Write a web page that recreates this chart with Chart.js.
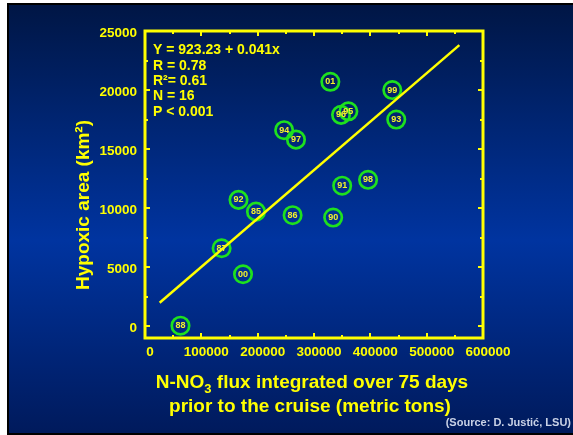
<!DOCTYPE html>
<html>
<head>
<meta charset="utf-8">
<title>Hypoxic area vs N-NO3 flux</title>
<script src="https://cdn.jsdelivr.net/npm/chart.js@4.4.1/dist/chart.umd.min.js"></script>
<style>
    html, body { margin: 0; padding: 0; background: #fff; overflow: hidden; }
</style>
</head>
<body>
<canvas id="fluxChart" width="573" height="435"></canvas>
<script>
(function () {
    'use strict';

    // cruise years (labels inside the circles)
    var years = ['85', '86', '87', '88', '90', '91', '92', '93', '94', '95', '96', '97', '98', '99', '00', '01'];
    // N-NO3 flux over 75 days before the cruise, metric tons
    var flux = [197000, 262000, 136000, 63000, 334000, 350000, 166000, 446000, 247000, 361000, 348000, 268000, 396000, 439000, 174000, 329000];
    // hypoxic area, km2
    var area = [9700, 9400, 6600, 40, 9200, 11900, 10700, 17500, 16600, 18200, 17900, 15800, 12400, 20000, 4400, 20700];

    // regression Y = a + b x, drawn over this flux range
    var fitA = 923.23;
    var fitB = 0.041;
    var fitFrom = 26000;
    var fitTo = 558000;

    var statsLines = ['Y = 923.23 + 0.041x', 'R = 0.78', 'R\u00b2= 0.61', 'N = 16', 'P < 0.001'];

    var xTicks = [0, 100000, 200000, 300000, 400000, 500000, 600000];
    var yTicks = [0, 5000, 10000, 15000, 20000, 25000];

    var YELLOW = '#ffff00';
    var GREEN = '#1ee11e';
    var FONT = "'Liberation Sans', Arial, sans-serif";

    var points = flux.map(function (f, i) { return { x: f, y: area[i] }; });
    var fitLine = [
        { x: fitFrom, y: fitA + fitB * fitFrom },
        { x: fitTo, y: fitA + fitB * fitTo }
    ];

    // slide background: white margin, black rule, blue gradient
    var slideBackground = {
        id: 'slideBackground',
        beforeDraw: function (chart) {
            var ctx = chart.ctx, w = chart.width, h = chart.height;
            ctx.save();
            ctx.fillStyle = '#ffffff';
            ctx.fillRect(0, 0, w, h);
            ctx.fillStyle = '#000000';
            ctx.fillRect(7, 3, w - 7, h - 3);
            var g = ctx.createLinearGradient(0, 5, 0, h - 2);
            g.addColorStop(0, '#001645');
            g.addColorStop(0.55, '#0034a0');
            g.addColorStop(1, '#001a5c');
            ctx.fillStyle = g;
            ctx.fillRect(9, 5, w - 9, h - 7);
            ctx.restore();
        }
    };

    // yellow box with inward tick marks on all four sides
    var plotBox = {
        id: 'plotBox',
        afterDatasetsDraw: function (chart) {
            var ctx = chart.ctx, a = chart.chartArea;
            var xs = chart.scales.x, ys = chart.scales.y;
            ctx.save();
            ctx.strokeStyle = YELLOW;
            ctx.lineWidth = 2;
            var v, p, len;
            ctx.beginPath();
            for (v = 50000; v < xs.max; v += 50000) {
                p = Math.round(xs.getPixelForValue(v));
                len = v % 100000 === 0 ? 5 : 3;
                ctx.moveTo(p, a.bottom); ctx.lineTo(p, a.bottom - len);
                ctx.moveTo(p, a.top); ctx.lineTo(p, a.top + len);
            }
            for (v = 0; v < ys.max; v += 2500) {
                p = Math.round(ys.getPixelForValue(v));
                len = v % 5000 === 0 ? 5 : 3;
                ctx.moveTo(a.left, p); ctx.lineTo(a.left + len, p);
                ctx.moveTo(a.right, p); ctx.lineTo(a.right - len, p);
            }
            ctx.stroke();
            ctx.lineWidth = 3;
            ctx.strokeRect(a.left, a.top, a.right - a.left, a.bottom - a.top);
            ctx.restore();
        }
    };

    // year label in each circle
    var yearLabels = {
        id: 'yearLabels',
        afterDatasetsDraw: function (chart) {
            var ctx = chart.ctx;
            var meta = chart.getDatasetMeta(1);
            ctx.save();
            ctx.fillStyle = '#f4f42a';
            ctx.font = 'bold 9px ' + FONT;
            ctx.textAlign = 'center';
            ctx.textBaseline = 'middle';
            meta.data.forEach(function (el, i) {
                ctx.fillText(years[i], el.x, el.y);
            });
            ctx.restore();
        }
    };

    // axis titles, regression stats and source note
    var textLayer = {
        id: 'textLayer',
        afterDraw: function (chart) {
            var ctx = chart.ctx;
            ctx.save();
            ctx.fillStyle = YELLOW;
            ctx.textBaseline = 'middle';

            ctx.font = 'bold 14px ' + FONT;
            ctx.textAlign = 'left';
            statsLines.forEach(function (s, i) {
                ctx.fillText(s, 153, 50.5 + i * 15.3);
            });

            ctx.font = 'bold 19px ' + FONT;
            ctx.save();
            ctx.translate(84, 205);
            ctx.rotate(-Math.PI / 2);
            ctx.textAlign = 'center';
            ctx.fillText('Hypoxic area (km\u00b2)', 0, 0);
            ctx.restore();

            // first line has a subscript 3
            var a1 = 'N-NO', sub = '3', a2 = ' flux integrated over 75 days';
            ctx.textAlign = 'left';
            ctx.font = 'bold 19px ' + FONT;
            var w1 = ctx.measureText(a1).width, w3 = ctx.measureText(a2).width;
            ctx.font = 'bold 13px ' + FONT;
            var w2 = ctx.measureText(sub).width;
            var x0 = 312 - (w1 + w2 + w3) / 2;
            ctx.font = 'bold 19px ' + FONT;
            ctx.fillText(a1, x0, 383);
            ctx.fillText(a2, x0 + w1 + w2, 383);
            ctx.font = 'bold 13px ' + FONT;
            ctx.fillText(sub, x0 + w1, 389);

            ctx.font = 'bold 19px ' + FONT;
            ctx.textAlign = 'center';
            ctx.fillText('prior to the cruise (metric tons)', 310, 407);

            ctx.font = 'bold 11px ' + FONT;
            ctx.textAlign = 'right';
            ctx.fillStyle = '#c9d2e6';
            ctx.fillText('(Source: D. Justi\u0107, LSU)', 571, 423);
            ctx.restore();
        }
    };

    new Chart(document.getElementById('fluxChart'), {
        type: 'scatter',
        data: {
            datasets: [
                {
                    type: 'line',
                    data: fitLine,
                    borderColor: YELLOW,
                    borderWidth: 2.5,
                    pointRadius: 0,
                    fill: false,
                    tension: 0
                },
                {
                    data: points,
                    pointRadius: 8.7,
                    pointBorderWidth: 2.7,
                    pointBorderColor: GREEN,
                    pointBackgroundColor: 'rgba(0,0,0,0)'
                }
            ]
        },
        options: {
            responsive: false,
            animation: false,
            events: [],
            layout: { padding: { left: 0, top: 31, right: 90, bottom: 0 } },
            plugins: {
                legend: { display: false },
                tooltip: { enabled: false }
            },
            scales: {
                x: {
                    type: 'linear',
                    min: 0,
                    max: 600000,
                    grid: { display: false, drawTicks: false },
                    border: { display: false },
                    afterBuildTicks: function (scale) {
                        scale.ticks = xTicks.map(function (v) { return { value: v }; });
                    },
                    afterFit: function (scale) { scale.height = 97; },
                    ticks: {
                        color: YELLOW,
                        font: { family: FONT, size: 13.5, weight: 'bold' },
                        padding: 6.5,
                        labelOffset: 5,
                        maxRotation: 0,
                        autoSkip: false,
                        callback: function (v) { return String(v); }
                    }
                },
                y: {
                    type: 'linear',
                    min: -1000,
                    max: 25000,
                    grid: { display: false, drawTicks: false },
                    border: { display: false },
                    afterBuildTicks: function (scale) {
                        scale.ticks = yTicks.map(function (v) { return { value: v }; });
                    },
                    afterFit: function (scale) { scale.width = 145; },
                    ticks: {
                        color: YELLOW,
                        font: { family: FONT, size: 13.5, weight: 'bold' },
                        padding: 8,
                        labelOffset: 2,
                        autoSkip: false,
                        callback: function (v) { return String(v); }
                    }
                }
            }
        },
        plugins: [slideBackground, plotBox, yearLabels, textLayer]
    });
})();
</script>
</body>
</html>
